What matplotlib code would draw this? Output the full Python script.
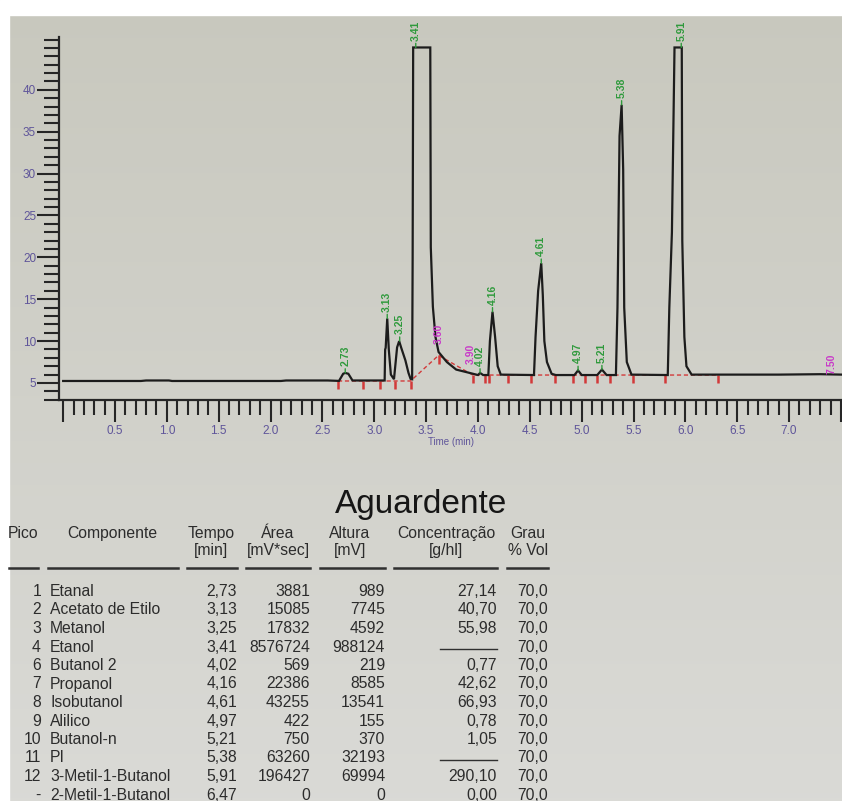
import numpy as np
import matplotlib
matplotlib.use("Agg")
import matplotlib.pyplot as plt
from matplotlib.ticker import MultipleLocator, FixedLocator

plt.rcParams['font.family'] = ['Liberation Sans', 'DejaVu Sans']

# ---------------- chromatogram data ----------------
trace_time = [0.00, 0.75, 0.80, 1.02, 1.05, 2.10, 2.15, 2.55, 2.66, 2.70, 2.72, 2.75, 2.79,
              3.10, 3.105, 3.11, 3.125, 3.14, 3.16, 3.19, 3.22, 3.24, 3.26, 3.30, 3.33, 3.35,
              3.365, 3.37, 3.375, 3.54, 3.545, 3.565, 3.59, 3.62, 3.70, 3.79, 3.92, 4.00,
              4.02, 4.05, 4.10, 4.115, 4.14, 4.165, 4.19, 4.22, 4.54, 4.555, 4.58, 4.61,
              4.625, 4.64, 4.665, 4.71, 4.75, 4.93, 4.965, 5.00, 5.15, 5.195, 5.24,
              5.33, 5.345, 5.365, 5.385, 5.40, 5.41, 5.435, 5.48, 5.83, 5.845, 5.87,
              5.895, 5.965, 5.97, 5.99, 6.01, 6.06, 6.90, 7.30, 7.51]
trace_signal = [5.24, 5.24, 5.30, 5.30, 5.24, 5.24, 5.30, 5.30, 5.25, 6.10, 6.20, 6.10, 5.30,
                5.30, 9.00, 9.20, 12.70, 9.00, 6.00, 5.45, 9.25, 10.00, 9.20, 7.70, 6.20, 5.50,
                5.45, 20.0, 45.05, 45.05, 21.2, 14.1, 10.5, 8.70, 7.50, 6.60, 6.20, 5.95,
                6.20, 5.95, 5.95, 10.0, 13.50, 10.50, 7.00, 6.00, 5.95, 10.50, 16.0, 19.30,
                15.50, 10.0, 7.50, 6.10, 5.95, 5.95, 6.50, 5.95, 5.95, 6.60, 5.95,
                5.95, 14.0, 34.5, 38.2, 30.5, 14.0, 7.50, 6.00, 5.95, 14.0, 23.0,
                45.05, 45.05, 22.0, 10.5, 7.00, 6.00, 6.00, 6.05, 6.00]

# integration marks (red)
mark_time = [2.65, 2.89, 3.06, 3.20, 3.35, 3.62, 3.95, 4.07, 4.11, 4.29, 4.51, 4.74,
             4.92, 5.03, 5.15, 5.27, 5.49, 5.80, 6.31]
mark_level = [5.24, 5.24, 5.24, 5.24, 5.24, 8.30, 5.95, 5.95, 5.95, 5.95, 5.95, 5.95,
              5.95, 5.95, 5.95, 5.95, 5.95, 5.95, 5.95]

# peak labels (green)
peak_text = ['2.73', '3.13', '3.25', '3.41', '4.02', '4.16', '4.61', '4.97', '5.21', '5.38', '5.91']
peak_time = [2.72, 3.125, 3.245, 3.40, 4.02, 4.14, 4.61, 4.965, 5.195, 5.385, 5.96]
peak_top = [6.2, 12.7, 10.0, 45.05, 6.2, 13.5, 19.3, 6.5, 6.6, 38.2, 45.05]

# event labels (magenta)
event_text = ['3.60', '3.90', '7.50']
event_time = [3.62, 3.93, 7.41]
event_y = [9.6, 7.3, 6.1]

ytick_values = [5, 10, 15, 20, 25, 30, 35, 40]
xtick_values = [0.0, 0.5, 1.0, 1.5, 2.0, 2.5, 3.0, 3.5, 4.0, 4.5, 5.0, 5.5, 6.0, 6.5, 7.0, 7.5]
xtick_labels = ['', '0.5', '1.0', '1.5', '2.0', '2.5', '3.0', '3.5', '4.0', '4.5', '5.0',
                '5.5', '6.0', '6.5', '7.0', '']

# ---------------- table data ----------------
title = 'Aguardente'
pico = ['1', '2', '3', '4', '6', '7', '8', '9', '10', '11', '12', '-']
componente = ['Etanal', 'Acetato de Etilo', 'Metanol', 'Etanol', 'Butanol 2', 'Propanol',
              'Isobutanol', 'Alilico', 'Butanol-n', 'PI', '3-Metil-1-Butanol', '2-Metil-1-Butanol']
tempo = ['2,73', '3,13', '3,25', '3,41', '4,02', '4,16', '4,61', '4,97', '5,21', '5,38', '5,91', '6,47']
area = ['3881', '15085', '17832', '8576724', '569', '22386', '43255', '422', '750', '63260', '196427', '0']
altura = ['989', '7745', '4592', '988124', '219', '8585', '13541', '155', '370', '32193', '69994', '0']
concentracao = ['27,14', '40,70', '55,98', None, '0,77', '42,62', '66,93', '0,78', '1,05', None, '290,10', '0,00']
grau = ['70,0'] * 12

W, H = 842, 801
fig = plt.figure(figsize=(W / 100, H / 100), dpi=100)


def fx(x):
    return x / W


def fy(y):
    return 1 - y / H


# background (photo-like paper tone)
bg = fig.add_axes([0, 0, 1, 1])
bg.set_xlim(0, W)
bg.set_ylim(H, 0)
bg.axis('off')
grad = np.linspace(0, 1, 256)[:, None]
c_top = np.array([0.785, 0.785, 0.745])
c_bot = np.array([0.855, 0.855, 0.840])
img = c_top[None, None, :] * (1 - grad[..., None]) + c_bot[None, None, :] * grad[..., None]
img = np.repeat(img, 4, axis=1)
bg.imshow(img, extent=[0, W, H, 0], aspect='auto', interpolation='bilinear')
bg.add_patch(plt.Rectangle((0, 0), W, 15, color='white', zorder=3))
bg.add_patch(plt.Rectangle((0, 0), 9, H, color='white', zorder=3))

# ---------------- chromatogram ----------------
ax = fig.add_axes([fx(59), fy(400), (W - 59) / W, (400 - 37) / H])
ax.set_facecolor('none')
ax.set_xlim(-0.04, 7.51)
ax.set_ylim(2.97, 46.3)
for s in ['top', 'right']:
    ax.spines[s].set_visible(False)
for s in ['left', 'bottom']:
    ax.spines[s].set_color('#262626')
    ax.spines[s].set_linewidth(1.6)

axis_col = '#262626'
lab_col = '#5f559a'
ax.xaxis.set_major_locator(FixedLocator(xtick_values))
ax.set_xticklabels(xtick_labels)
ax.xaxis.set_minor_locator(MultipleLocator(0.1))
ax.yaxis.set_major_locator(FixedLocator(ytick_values))
ax.set_yticklabels([str(v) for v in ytick_values])
ax.yaxis.set_minor_locator(MultipleLocator(1))
ax.tick_params(axis='x', which='major', direction='out', length=16, width=1.5,
               color=axis_col, labelcolor=lab_col, labelsize=8.5, pad=2)
ax.tick_params(axis='x', which='minor', direction='out', length=10.5, width=1.5, color=axis_col)
ax.tick_params(axis='y', which='major', direction='out', length=16, width=1.5,
               color=axis_col, labelcolor=lab_col, labelsize=8.5, pad=0.5)
ax.tick_params(axis='y', which='minor', direction='out', length=11, width=1.5, color=axis_col)
ax.text(3.74, -0.115, 'Time (min)', transform=ax.get_xaxis_transform(), ha='center',
        va='center', fontsize=7, color=lab_col)

# red integration baseline + marks
red = '#d23a3a'
ax.plot(mark_time, mark_level, color=red, lw=1.0, ls=(0, (3, 2)), zorder=2)
ax.vlines(mark_time, [v - 1.0 for v in mark_level], mark_level, color=red, lw=1.8, zorder=3)

# trace
ax.plot(trace_time, trace_signal, color='#1c1c1c', lw=1.6, zorder=4, solid_joinstyle='miter')

green = '#2f9a3c'
for txt, t, top in zip(peak_text, peak_time, peak_top):
    ax.annotate(txt, xy=(t, top), xytext=(0, 5), textcoords='offset points', rotation=90,
                ha='center', va='bottom', fontsize=7.5, color=green, fontweight='bold',
                arrowprops=dict(arrowstyle='-', color=green, lw=1.0, shrinkA=0, shrinkB=0),
                zorder=5)

mag = '#c83ac8'
for txt, t, yv in zip(event_text, event_time, event_y):
    ax.text(t, yv, txt, rotation=90, ha='center', va='bottom', fontsize=7.5, color=mag,
            fontweight='bold', zorder=5)

# ---------------- table ----------------
tcol = '#2c2c2c'
fs = 11.3
fig.text(fx(335), fy(513), title, fontsize=24, color='#161616', ha='left', va='baseline')

headers = [
    ('Pico', None, 23),
    ('Componente', None, 112),
    ('Tempo', '[min]', 211),
    ('Área', '[mV*sec]', 278),
    ('Altura', '[mV]', 350),
    ('Concentração', '[g/hl]', 446),
    ('Grau', '% Vol', 528),
]
for h1, h2, xc in headers:
    fig.text(fx(xc), fy(538), h1, fontsize=fs, color=tcol, ha='center', va='baseline')
    if h2:
        fig.text(fx(xc), fy(555), h2, fontsize=fs, color=tcol, ha='center', va='baseline')

rule_segments = [(9, 38), (48, 178), (187, 237), (246, 310), (320, 385), (394, 497), (507, 548)]
for x0, x1 in rule_segments:
    bg.plot([x0, x1], [568, 568], color='#303030', lw=1.8, zorder=4)

for i in range(len(pico)):
    yb = 596 + 18.5 * i
    fig.text(fx(41), fy(yb), pico[i], fontsize=fs, color=tcol, ha='right', va='baseline')
    fig.text(fx(50), fy(yb), componente[i], fontsize=fs, color=tcol, ha='left', va='baseline')
    fig.text(fx(237), fy(yb), tempo[i], fontsize=fs, color=tcol, ha='right', va='baseline')
    fig.text(fx(310), fy(yb), area[i], fontsize=fs, color=tcol, ha='right', va='baseline')
    fig.text(fx(385), fy(yb), altura[i], fontsize=fs, color=tcol, ha='right', va='baseline')
    if concentracao[i] is None:
        bg.plot([440, 497], [yb - 3, yb - 3], color='#303030', lw=1.0, zorder=4)
    else:
        fig.text(fx(497), fy(yb), concentracao[i], fontsize=fs, color=tcol, ha='right', va='baseline')
    fig.text(fx(548), fy(yb), grau[i], fontsize=fs, color=tcol, ha='right', va='baseline')

fig.savefig('out.png', dpi=100)
